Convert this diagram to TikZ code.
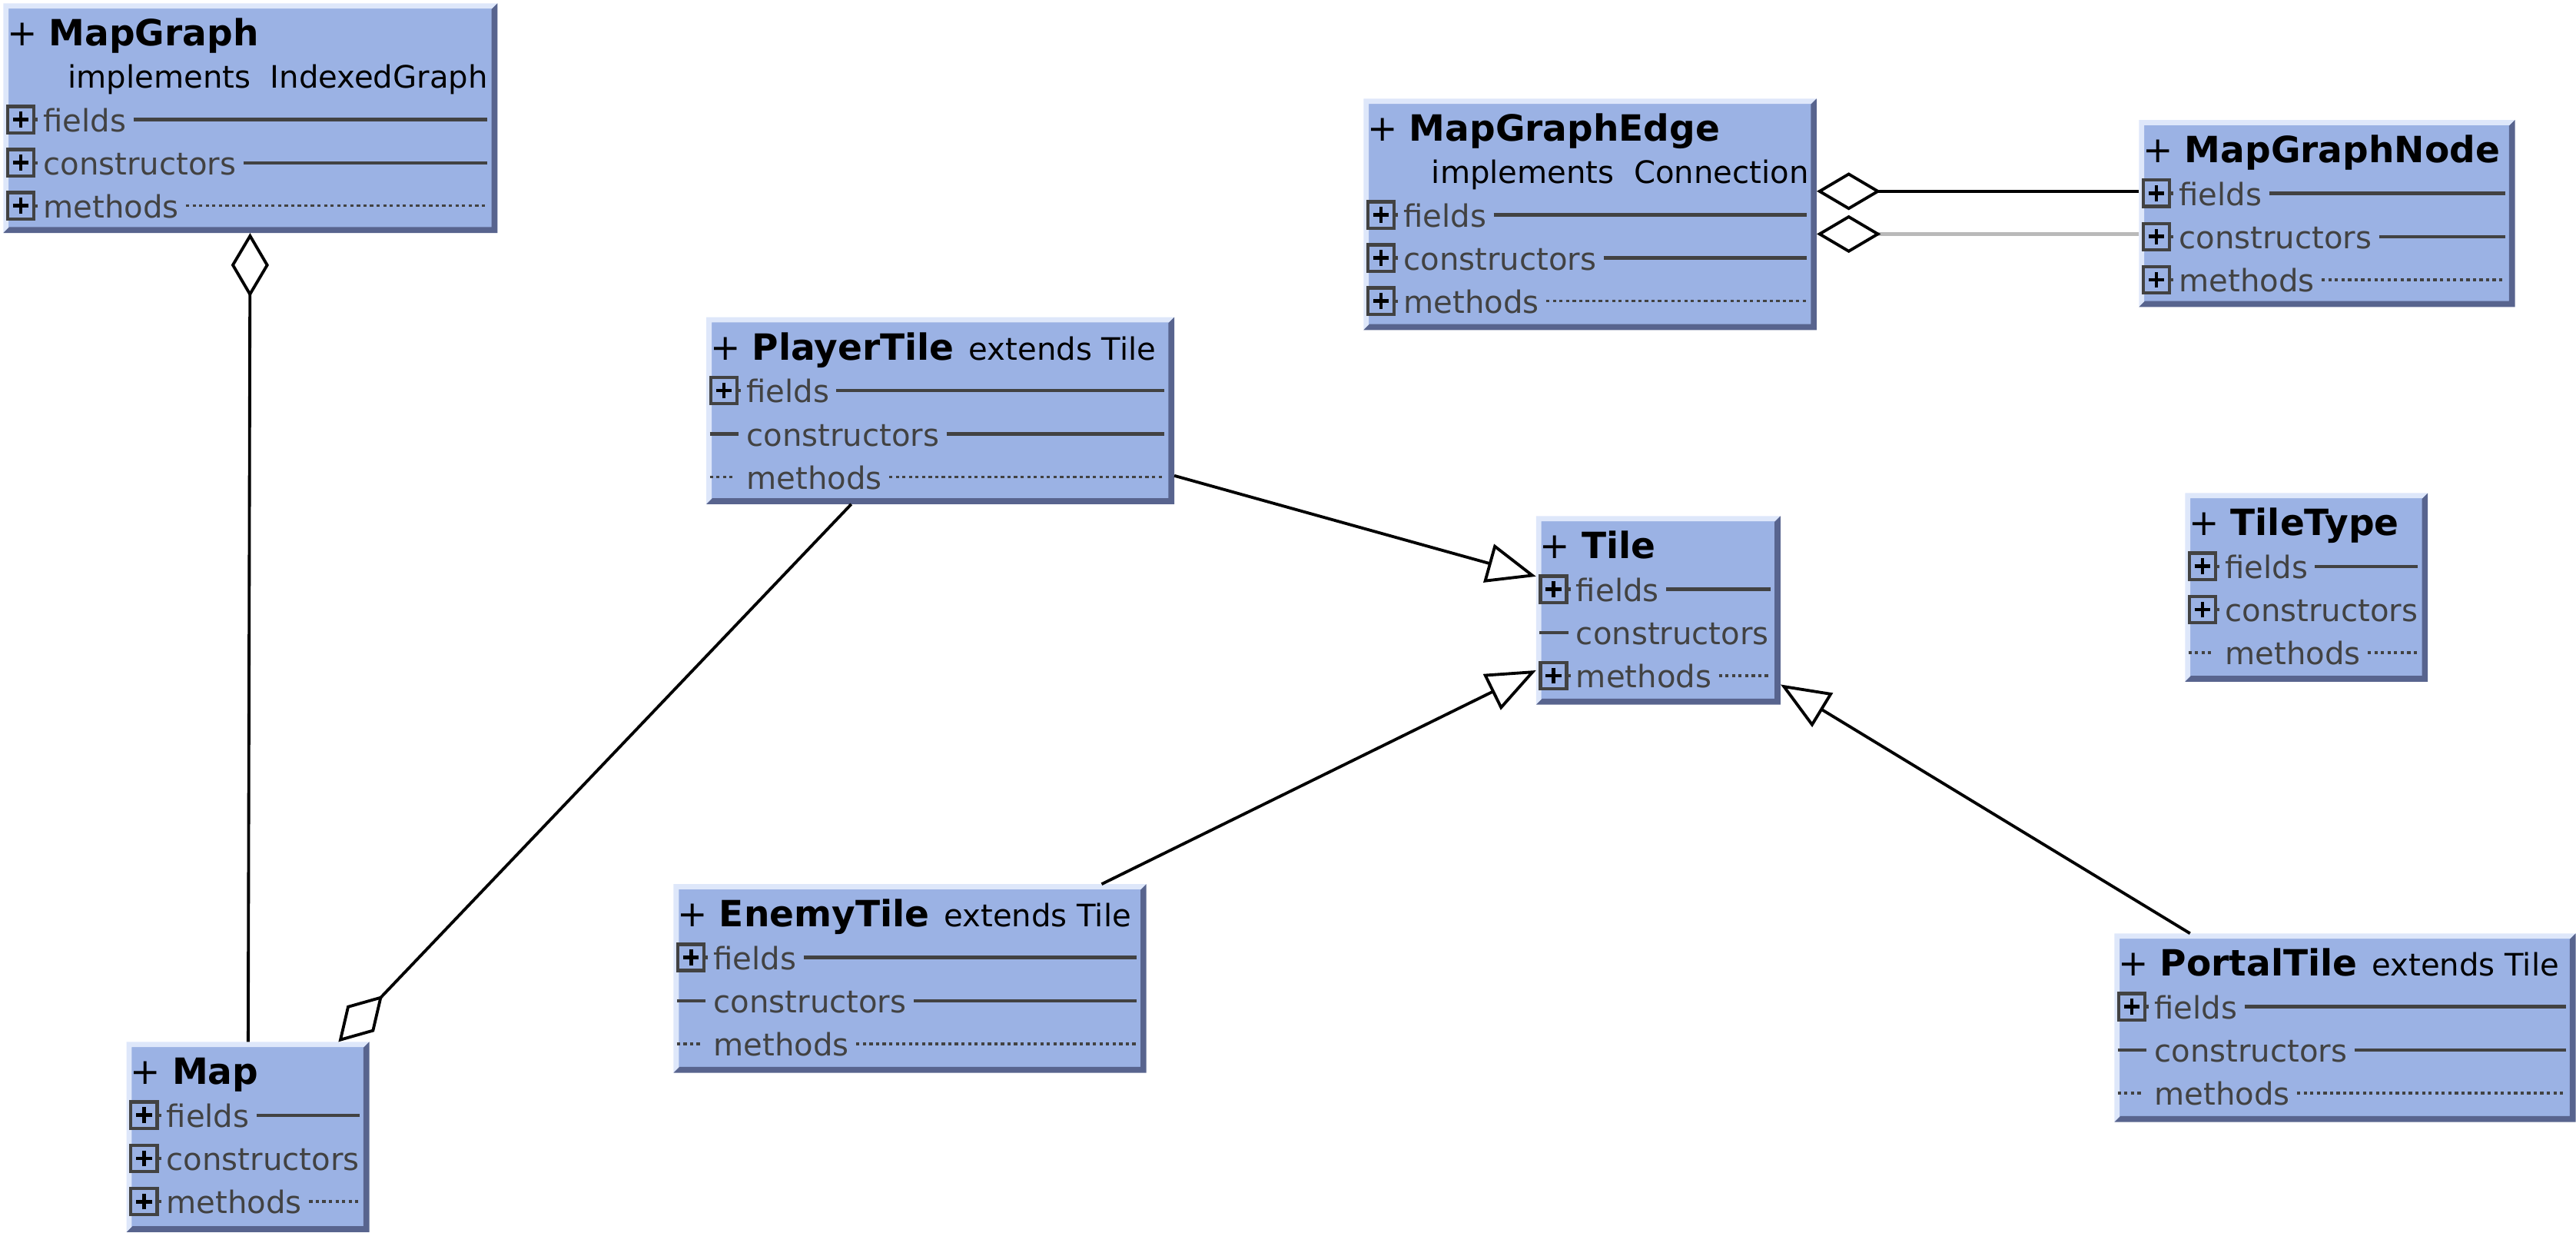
\documentclass[tikz,border=0pt]{standalone}
\usepackage{fontspec}
\setmainfont{DejaVu Sans}
\usetikzlibrary{arrows.meta, calc}
\definecolor{boxblue}{RGB}{155,178,228}
\definecolor{bevlight}{RGB}{222,231,250}
\definecolor{bevdark}{RGB}{88,100,142}
\definecolor{rowgray}{RGB}{66,66,66}
\definecolor{linkgray}{RGB}{185,185,185}

\tikzset{
  classbox/.style={fill=boxblue, inner sep=0pt, anchor=north west},
  titletext/.style={anchor=base west, inner sep=0pt, font=\fontsize{11}{13}\selectfont},
  subtext/.style={anchor=base west, inner sep=0pt, font=\fontsize{9.4}{11}\selectfont},
  rowtext/.style={subtext, text=rowgray},
  rowline/.style={draw=rowgray, line width=1pt},
  rowdots/.style={draw=rowgray, line width=0.8pt, dash pattern=on 1pt off 1pt},
  rownone/.style={draw=none},
  plusbox/.style={draw=rowgray, fill=boxblue, line width=1pt, minimum size=8pt, inner sep=0pt,
    path picture={\draw[black, line width=1.1pt]
      ([xshift=-2.4pt]path picture bounding box.center) -- ([xshift=2.4pt]path picture bounding box.center)
      ([yshift=-2.4pt]path picture bounding box.center) -- ([yshift=2.4pt]path picture bounding box.center);}},
  aggr/.style={line width=0.9pt, -{Diamond[length=19.5pt, width=11.5pt, color=black, fill=white, line width=0.9pt]}},
  inherit/.style={line width=0.9pt, -{Triangle[length=15pt, width=12pt, fill=white]}},
}

% box with bevelled edges: name, x, y, width, height
\newcommand{\classbox}[5]{%
  \node[classbox, minimum width=#4, minimum height=#5] (#1) at (#2,#3) {};
  \fill[bevlight] (#1.south west) -- (#1.north west) -- (#1.north east)
    -- ([shift={(-1.6pt,-1.6pt)}]#1.north east) -- ([shift={(1.6pt,-1.6pt)}]#1.north west)
    -- ([shift={(1.6pt,1.6pt)}]#1.south west) -- cycle;
  \fill[bevdark] (#1.south west) -- (#1.south east) -- (#1.north east)
    -- ([shift={(-1.8pt,-1.8pt)}]#1.north east) -- ([shift={(-1.8pt,1.8pt)}]#1.south east)
    -- ([shift={(1.8pt,1.8pt)}]#1.south west) -- cycle;
}
\newcommand{\classtitle}[2]{%
  \node[titletext] (#1-title) at ([xshift=1pt,yshift=-13pt]#1.north west) {#2};
}
\newcommand{\markplus}[1]{%
  \draw[rowline] ([xshift=-4.3pt]#1) -- ([xshift=5.2pt]#1);
  \node[plusbox] (#1-icon) at (#1) {};
}
\newcommand{\markdash}[1]{\draw[rowline] ([xshift=-4.3pt]#1) -- ([xshift=4.5pt]#1);}
\newcommand{\markdots}[1]{\draw[rowdots] ([xshift=-4.3pt]#1) -- ([xshift=3.5pt]#1);}
% row: box, key, baseline, marker, label, tail style
\newcommand{\classrow}[6]{%
  \node[rowtext] (#1-#2) at ([xshift=12pt,yshift=-#3]#1.north west) {#5};
  \coordinate (#1-#2-mark) at ([xshift=5.3pt,yshift=-#3+3.7pt]#1.north west);
  \csname mark#4\endcsname{#1-#2-mark}
  \draw[#6] ([xshift=2pt,yshift=3.7pt]#1-#2.base east) -- ([xshift=-3pt,yshift=3.7pt]#1.east |- #1-#2.base);
}

\begin{document}
\begin{tikzpicture}[x=0.5pt, y=-0.5pt]
\useasboundingbox (0,0) rectangle (1568,750);

% classes
\classbox{mapgraph}{2}{2}{150pt}{69.5pt}
\classtitle{mapgraph}{+ \textbf{MapGraph}}
\node[subtext] (mapgraph-impl) at ([xshift=19.5pt,yshift=-25.8pt]mapgraph.north west) {implements\ \ IndexedGraph};
\classrow{mapgraph}{fields}{39.1pt}{plus}{fields}{rowline}
\classrow{mapgraph}{ctors}{52.2pt}{plus}{constructors}{rowline}
\classrow{mapgraph}{methods}{65.3pt}{plus}{methods}{rowdots}

\classbox{mapgraphedge}{830}{60}{137.5pt}{70pt}
\classtitle{mapgraphedge}{+ \textbf{MapGraphEdge}}
\node[subtext] (mapgraphedge-impl) at ([xshift=20.5pt,yshift=-25.8pt]mapgraphedge.north west) {implements\ \ Connection};
\classrow{mapgraphedge}{fields}{39.1pt}{plus}{fields}{rowline}
\classrow{mapgraphedge}{ctors}{52.2pt}{plus}{constructors}{rowline}
\classrow{mapgraphedge}{methods}{65.3pt}{plus}{methods}{rowdots}

\classbox{mapgraphnode}{1302}{73}{114pt}{56.5pt}
\classtitle{mapgraphnode}{+ \textbf{MapGraphNode}}
\classrow{mapgraphnode}{fields}{26pt}{plus}{fields}{rowline}
\classrow{mapgraphnode}{ctors}{39.2pt}{plus}{constructors}{rowline}
\classrow{mapgraphnode}{methods}{52.3pt}{plus}{methods}{rowdots}

\classbox{playertile}{430}{193}{142pt}{56.5pt}
\classtitle{playertile}{+ \textbf{PlayerTile}\hspace{4.5pt}{\fontsize{9.4}{11}\selectfont extends Tile}}
\classrow{playertile}{fields}{26pt}{plus}{fields}{rowline}
\classrow{playertile}{ctors}{39.2pt}{dash}{constructors}{rowline}
\classrow{playertile}{methods}{52.3pt}{dots}{methods}{rowdots}

\classbox{tile}{935}{314}{74pt}{57pt}
\classtitle{tile}{+ \textbf{Tile}}
\classrow{tile}{fields}{26pt}{plus}{fields}{rowline}
\classrow{tile}{ctors}{39.2pt}{dash}{constructors}{rownone}
\classrow{tile}{methods}{52.3pt}{plus}{methods}{rowdots}

\classbox{tiletype}{1330}{300}{73.5pt}{57pt}
\classtitle{tiletype}{+ \textbf{TileType}}
\classrow{tiletype}{fields}{26pt}{plus}{fields}{rowline}
\classrow{tiletype}{ctors}{39.2pt}{plus}{constructors}{rownone}
\classrow{tiletype}{methods}{52.3pt}{dots}{methods}{rowdots}

\classbox{enemytile}{410}{538}{143.5pt}{57pt}
\classtitle{enemytile}{+ \textbf{EnemyTile}\hspace{4.5pt}{\fontsize{9.4}{11}\selectfont extends Tile}}
\classrow{enemytile}{fields}{26pt}{plus}{fields}{rowline}
\classrow{enemytile}{ctors}{39.2pt}{dash}{constructors}{rowline}
\classrow{enemytile}{methods}{52.3pt}{dots}{methods}{rowdots}

\classbox{map}{77}{634}{73.5pt}{57.5pt}
\classtitle{map}{+ \textbf{Map}}
\classrow{map}{fields}{26pt}{plus}{fields}{rowline}
\classrow{map}{ctors}{39.2pt}{plus}{constructors}{rownone}
\classrow{map}{methods}{52.3pt}{plus}{methods}{rowdots}

\classbox{portaltile}{1287}{568}{140pt}{57pt}
\classtitle{portaltile}{+ \textbf{PortalTile}\hspace{4.5pt}{\fontsize{9.4}{11}\selectfont extends Tile}}
\classrow{portaltile}{fields}{26pt}{plus}{fields}{rowline}
\classrow{portaltile}{ctors}{39.2pt}{dash}{constructors}{rowline}
\classrow{portaltile}{methods}{52.3pt}{dots}{methods}{rowdots}

% links
\draw[aggr] (map) -- (mapgraph);
\draw[aggr] (playertile) -- (map);
\draw[aggr] ([yshift=6.75pt]mapgraphnode.west) -- ([yshift=6.75pt]mapgraphnode.west -| mapgraphedge.east);
\draw[aggr, draw=linkgray, line width=1.1pt] ([yshift=-6.25pt]mapgraphnode.west) -- ([yshift=-6.25pt]mapgraphnode.west -| mapgraphedge.east);
\draw[inherit] (playertile) -- (tile);
\draw[inherit] (enemytile) -- (tile);
\draw[inherit] (portaltile) -- (tile);
\end{tikzpicture}
\end{document}
